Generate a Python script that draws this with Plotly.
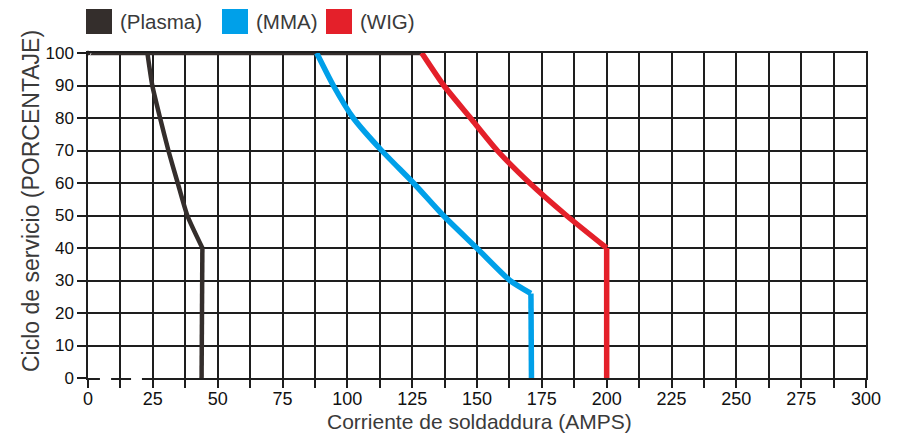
import plotly.graph_objects as go

# ---- data ----
full_duty_x = [0, 128.5]
full_duty_y = [100, 100]

plasma_x = [22.9, 24.8, 27.8, 31.0, 34.6, 38.3, 44.1, 43.8]
plasma_y = [100, 90, 80, 70, 60, 50, 40, 0]
plasma_knee = 6

mma_x = [88.2, 94.6, 102.3, 113.2, 125.5, 137.0, 149.9, 162.7, 170.8, 171.0]
mma_y = [100, 90, 80, 70, 60, 50, 40, 30, 26.0, 0]
mma_knee = 8

wig_x = [128.7, 137.2, 147.5, 157.8, 170.3, 184.5, 200.0, 200.0]
wig_y = [100, 90, 80, 70, 60, 50, 40, 0]
wig_knee = 6

legend_labels = ["(Plasma)", "(MMA)", "(WIG)"]
x_ticks = [0, 25, 50, 75, 100, 125, 150, 175, 200, 225, 250, 275, 300]
y_ticks = [0, 10, 20, 30, 40, 50, 60, 70, 80, 90, 100]

C_PLASMA = "#342e2c"
C_MMA = "#00a0e9"
C_WIG = "#e4202a"
GRID = "#1e1e1e"
TEXT = "#3a3a3a"
FONT = "Liberation Sans, Arial, sans-serif"

W, H = 905, 433
ML, MR, MT, MB = 80, 47, 45, 63
OFF = 8  # page body offset

fig = go.Figure()
fig.add_trace(go.Scatter(x=full_duty_x, y=full_duty_y, mode="lines+markers",
                         line=dict(color=C_PLASMA, width=4.5),
                         marker=dict(size=[6, 0], color=C_PLASMA),
                         cliponaxis=False, showlegend=False))

for xs, ys, knee, col, wid, lab in [
    (plasma_x, plasma_y, plasma_knee, C_PLASMA, 4.5, legend_labels[0]),
    (mma_x, mma_y, mma_knee, C_MMA, 5.5, legend_labels[1]),
    (wig_x, wig_y, wig_knee, C_WIG, 5.5, legend_labels[2]),
]:
    # smooth curved part
    fig.add_trace(go.Scatter(x=xs[:knee + 1], y=ys[:knee + 1], mode="lines", name=lab,
                             line=dict(color=col, width=wid, shape="spline", smoothing=0.6),
                             cliponaxis=False, showlegend=False))
    # straight part below the knee
    fig.add_trace(go.Scatter(x=xs[knee:], y=ys[knee:], mode="lines", name=lab,
                             line=dict(color=col, width=wid),
                             cliponaxis=False, showlegend=False))

fig.update_xaxes(range=[0, 300], tickmode="array", tickvals=x_ticks,
                 ticktext=[str(v) for v in x_ticks],
                 showgrid=True, gridcolor=GRID, gridwidth=1.5,
                 ticks="outside", ticklen=8, tickwidth=1.5, tickcolor=GRID,
                 ticklabelstandoff=-4,
                 minor=dict(tickvals=[v + 12.5 for v in x_ticks[:-1]], showgrid=True,
                            gridcolor=GRID, gridwidth=1.5, ticks="outside",
                            ticklen=8, tickwidth=1.5, tickcolor=GRID),
                 showline=True, mirror=True, linecolor=GRID, linewidth=1.5,
                 zeroline=False, fixedrange=True, automargin=False,
                 tickfont=dict(family=FONT, size=18, color="#111"))
fig.update_yaxes(range=[0, 100], tickmode="array", tickvals=y_ticks,
                 showgrid=True, gridcolor=GRID, gridwidth=1.5,
                 ticks="outside", ticklen=9, tickwidth=1.5, tickcolor=GRID,
                 showline=True, mirror=True, linecolor=GRID, linewidth=1.5,
                 zeroline=False, fixedrange=True, automargin=False,
                 tickfont=dict(family=FONT, size=17, color="#111"))

pw, ph = W - ML - MR, H - MT - MB
def px_to_paper_x(px):
    return (px - OFF - ML) / pw
def px_to_paper_y(py):
    return (H - MB - (py - OFF)) / ph

shapes = []
annotations = []
# small gaps in the bottom line near the origin
for g0, g1 in [(4.6, 8.9), (16.6, 20.8)]:
    shapes.append(dict(type="rect", xref="paper", yref="paper",
                       x0=g0 / 300, x1=g1 / 300, y0=-0.008, y1=0.008,
                       fillcolor="white", line=dict(width=0), layer="above"))

# legend: coloured squares + labels
leg_sq_x = [86, 222, 326]
leg_colors = [C_PLASMA, C_MMA, C_WIG]
for sx, col, lab in zip(leg_sq_x, leg_colors, legend_labels):
    shapes.append(dict(type="rect", xref="paper", yref="paper",
                       x0=px_to_paper_x(sx), x1=px_to_paper_x(sx + 26),
                       y0=px_to_paper_y(34), y1=px_to_paper_y(9),
                       fillcolor=col, line=dict(width=0)))
    annotations.append(dict(xref="paper", yref="paper",
                            x=px_to_paper_x(sx + 32), y=px_to_paper_y(22),
                            xanchor="left", yanchor="middle", showarrow=False,
                            text=lab, font=dict(family=FONT, size=20.5, color=TEXT)))

annotations.append(dict(xref="paper", yref="paper",
                        x=px_to_paper_x(479), y=px_to_paper_y(421),
                        xanchor="center", yanchor="middle", showarrow=False,
                        text="Corriente de soldaddura (AMPS)",
                        font=dict(family=FONT, size=21, color=TEXT)))
annotations.append(dict(xref="paper", yref="paper",
                        x=px_to_paper_x(31), y=px_to_paper_y(201),
                        xanchor="center", yanchor="middle", showarrow=False,
                        textangle=-90,
                        text="Ciclo de servicio (PORCENTAJE)",
                        font=dict(family=FONT, size=23, color=TEXT)))

fig.update_layout(width=W, height=H,
                  margin=dict(l=ML, r=MR, t=MT, b=MB, autoexpand=False),
                  paper_bgcolor="white", plot_bgcolor="white",
                  shapes=shapes, annotations=annotations,
                  showlegend=False)

fig.write_html("out.html")
